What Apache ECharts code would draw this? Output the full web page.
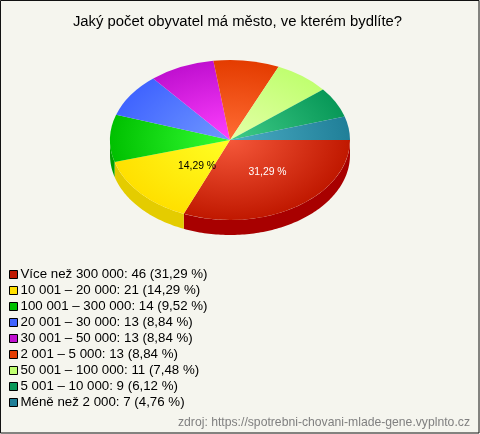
<!DOCTYPE html>
<html>
<head>
<meta charset="utf-8">
<style>html,body{margin:0;padding:0;background:#f5f5ee}#c{width:480px;height:434px}</style>
<script src="https://cdn.jsdelivr.net/npm/echarts@6/dist/echarts.min.js"></script>
</head>
<body>
<div id="c"></div>
<script>
const categories = ["Více než 300 000","10 001 – 20 000","100 001 – 300 000","20 001 – 30 000","30 001 – 50 000","2 001 – 5 000","50 001 – 100 000","5 001 – 10 000","Méně než 2 000"];
const values = [46,21,14,13,13,13,11,9,7];
const percentLabels = ["31,29 %","14,29 %","9,52 %","8,84 %","8,84 %","8,84 %","7,48 %","6,12 %","4,76 %"];
const innerColors = ["#f5583a","#ffff24","#34ff34","#7098ff","#ff40ff","#ff6c34","#e4ffa8","#40cc88","#4cacc4"];
const outerColors = ["#c01800","#ffe000","#00c000","#4064ff","#c010d0","#e43c00","#c0ff70","#089858","#207f98"];
const sideColors = ["#a80000","#e4cc00","#00a000","#3048c0","#900ca0","#ac2c00","#90c054","#067244","#186072"];
const slicePercentLabelAt = {0:[267.5,172.5,"#ffffff"],1:[197,166.5,"#000000"]};

const CX=230, CY=140, RX=120, RY=80, DEPTH=15;
const total = values.reduce((a,b)=>a+b,0);
const starts = []; let acc=0;
values.forEach(v=>{starts.push(acc/total*Math.PI*2); acc+=v;});

function sliceItem(idx){
  const a0=starts[idx], a1=a0+values[idx]/total*Math.PI*2;
  const children=[];
  const s0=Math.max(a0,0), s1=Math.min(a1,Math.PI);
  if(s1>s0){
    const top=[],bot=[]; const n=Math.ceil((s1-s0)/0.02);
    for(let i=0;i<=n;i++){
      const t=s0+(s1-s0)*i/n, x=CX+RX*Math.cos(t), y=CY+RY*Math.sin(t);
      top.push([x,y]); bot.unshift([x,y+DEPTH]);
    }
    children.push({type:'polygon',shape:{points:top.concat(bot)},style:{fill:sideColors[idx]}});
  }
  children.push({type:'sector',x:CX,y:CY,scaleY:RY/RX,
    shape:{cx:0,cy:0,r:RX,r0:0,startAngle:a0,endAngle:a1,clockwise:true},
    style:{fill:new echarts.graphic.RadialGradient(0,0,RX,[{offset:0,color:innerColors[idx]},{offset:1,color:outerColors[idx]}],true)}});
  return {type:'group',children};
}

const series = categories.map((name,idx)=>({
  type:'custom',name,coordinateSystem:'none',silent:true,animation:false,
  data:[values[idx]],
  itemStyle:{color:outerColors[idx]},
  renderItem:()=>sliceItem(idx)
}));

const labelGraphics = Object.keys(slicePercentLabelAt).map(k=>{
  const p=slicePercentLabelAt[k];
  return {type:'text',x:p[0],y:p[1],z:50,style:{text:percentLabels[k],fill:p[2],font:'10.4px "Liberation Sans", Arial, sans-serif',align:'center',verticalAlign:'middle'}};
});

const chart = echarts.init(document.getElementById('c'),null,{renderer:'canvas',width:480,height:434});
chart.setOption({
  animation:false,
  backgroundColor:'#f5f5ee',
  title:[
    {text:'Jaký počet obyvatel má město, ve kterém bydlíte?',left:237.5,top:14,padding:0,textAlign:'center',
     textStyle:{fontFamily:'"Liberation Sans", Arial, sans-serif',fontSize:14.85,fontWeight:'normal',color:'#000'}},
    {text:'zdroj: https://spotrebni-chovani-mlade-gene.vyplnto.cz',left:178,top:417,padding:0,
     textStyle:{fontFamily:'"Liberation Sans", Arial, sans-serif',fontSize:12.2,fontWeight:'normal',color:'#808080'}}
  ],
  legend:{
    orient:'vertical',left:9,top:268,padding:0,itemGap:3,itemWidth:8,itemHeight:8,
    selectedMode:false,icon:'rect',
    data:categories.map((name,idx)=>({name,itemStyle:{color:outerColors[idx],borderColor:'#000',borderWidth:1}})),
    formatter:n=>{const i=categories.indexOf(n);return n+': '+values[i]+' ('+percentLabels[i]+')';},
    textStyle:{fontFamily:'"Liberation Sans", Arial, sans-serif',fontSize:13.3,color:'#000',padding:[0,0,0,-2],lineHeight:13}
  },
  series,
  graphic:[
    ...labelGraphics,
    {type:'rect',z:60,silent:true,shape:{x:0.5,y:0.5,width:478.5,height:432.5},style:{fill:'none',stroke:'#111',lineWidth:1}}
  ]
});
</script>
</body>
</html>
